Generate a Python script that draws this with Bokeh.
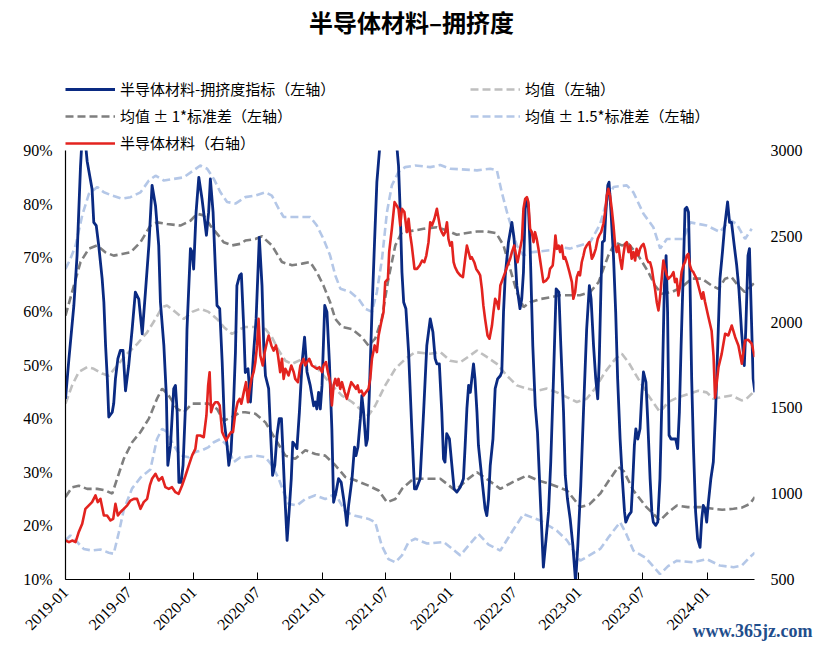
import math
import pandas as pd
from bokeh.plotting import figure
from bokeh.layouts import column
from bokeh.models import (Range1d, LinearAxis, FixedTicker, PrintfTickFormatter,
                          DatetimeTickFormatter, Legend, LegendItem, Label)
from bokeh.embed import file_html
from bokeh.resources import INLINE

# ---------------- data ----------------
X_START = "2019-01-01"   # week 0
X_END = "2024-05-15"
x_tick_labels = ["2019-01", "2019-07", "2020-01", "2020-07", "2021-01", "2021-07",
                 "2022-01", "2022-07", "2023-01", "2023-07", "2024-01"]
left_ticks = [10, 20, 30, 40, 50, 60, 70, 80, 90]
right_ticks = [500, 1000, 1500, 2000, 2500, 3000]

title_text = "半导体材料–拥挤度"
legend_labels = ["半导体材料-拥挤度指标（左轴）", "均值（左轴）", "均值 ± 1*标准差（左轴）",
                 "均值 ± 1.5*标准差（左轴）", "半导体材料（右轴）"]
watermark_text = "www.365jz.com"

# (week since 2019-01-01, value %) crowding index (left axis)
crowding = [
    (0, 43.7), (1.4, 51.2), (3.4, 61.1), (4.7, 70.4), (6.1, 87.0), (7.2, 96.0), (8.8, 88.0), (10.8, 82.8),
    (11.5, 76.6), (12.5, 76.0), (13.5, 72.3), (14.9, 66.1), (15.6, 61.7), (16.3, 53.6), (17.0, 47.4),
    (17.6, 40.3), (19.0, 41.2), (19.6, 42.8), (20.3, 47.4), (21.3, 51.2), (22.3, 52.7), (23.4, 52.7),
    (24.4, 45.2), (25.7, 49.9), (27.1, 56.7), (28.4, 63.6), (29.8, 62.3), (31.2, 55.8), (32.5, 63.6),
    (33.9, 72.3), (35.2, 83.5), (36.6, 79.7), (37.9, 72.3), (38.6, 61.7), (40.0, 53.6), (41.0, 44.3),
    (41.6, 31.3), (42.7, 35.0), (44.0, 45.6), (44.7, 46.2), (45.4, 41.2), (46.1, 28.1), (47.0, 28.1),
    (47.8, 31.3), (48.8, 42.5), (49.4, 56.7), (50.8, 71.7), (51.5, 71.0), (52.1, 67.9), (53.1, 78.5),
    (54.2, 85.0), (55.5, 81.0), (57.3, 74.2), (58.2, 78.5), (58.9, 84.7), (60.0, 78.5), (61.0, 67.3),
    (61.6, 61.1), (62.7, 60.5), (63.7, 50.6), (64.6, 39.3), (65.7, 35.0), (66.4, 31.3), (67.3, 33.8),
    (68.4, 43.7), (69.1, 52.4), (69.7, 64.8), (70.8, 66.7),
    (71.5, 67.0), (72.5, 56.7), (73.1, 48.6), (74.2, 49.3), (75.2, 43.1), (76.5, 52.4), (77.5, 58.6),
    (78.8, 73.8), (79.9, 64.8), (80.6, 53.6), (81.3, 48.0), (82.6, 45.6), (83.3, 38.1), (84.2, 29.4),
    (85.1, 31.3), (86.0, 36.9), (86.9, 40.0), (87.8, 40.0), (88.3, 35.0), (89.1, 26.3), (90.1, 17.3),
    (91.0, 23.2), (91.8, 28.8), (92.4, 35.6), (93.4, 35.0), (94.1, 34.4), (95.1, 41.2), (96.2, 50.5),
    (97.2, 55.2), (98.2, 48.7), (99.5, 46.2), (100.9, 42.4), (101.6, 43.1), (102.2, 41.8), (102.9, 44.9),
    (103.6, 41.8), (104.3, 46.2), (105.4, 61.1), (106.3, 59.9), (107.3, 50.5), (108.3, 38.1), (109.0, 24.4),
    (110.0, 26.3), (111.0, 28.8), (112.1, 28.1), (113.1, 25.0), (113.8, 22.6), (114.4, 20.1), (115.1, 23.8),
    (116.5, 28.8), (117.5, 34.7), (118.1, 33.1), (118.9, 34.7), (119.9, 40.0), (120.5, 44.3), (121.2, 41.2),
    (122.2, 35.0), (122.8, 36.2), (123.5, 44.3), (124.6, 59.9), (125.7, 73.5), (126.6, 84.1), (127.6, 89.7),
    (128.7, 96.5), (130.7, 99.0), (132.7, 98.0), (134.7, 90.9), (135.4, 87.2), (136.1, 78.5), (136.8, 67.3),
    (137.5, 61.7), (138.4, 60.5), (139.5, 52.4), (140.8, 38.1), (141.9, 26.9),
    (142.6, 26.9), (144.2, 28.8), (145.6, 41.2), (146.9, 53.6), (148.3, 58.6), (149.4, 56.1), (150.3, 51.2),
    (151.0, 50.2), (152.0, 50.2), (153.0, 41.2), (153.7, 32.5), (154.3, 31.9), (155.0, 37.2), (156.1, 36.2),
    (157.1, 31.3), (158.0, 26.9), (159.1, 26.3), (160.5, 27.2), (161.8, 28.8), (162.5, 35.0), (163.2, 41.8),
    (163.9, 46.2), (164.6, 44.9), (165.2, 47.4), (165.9, 50.2), (166.5, 47.4), (167.3, 41.2), (167.9, 35.0),
    (169.3, 28.8), (170.6, 23.2), (171.3, 21.9), (172.0, 25.0), (172.7, 31.3), (173.8, 36.2), (174.7, 45.6),
    (175.7, 47.4), (176.8, 48.0), (177.4, 48.7), (178.1, 59.9), (178.8, 66.7), (180.1, 72.9), (181.5, 76.6),
    (182.4, 73.5), (183.5, 64.8), (184.8, 60.5), (185.5, 62.3), (186.2, 67.3), (186.9, 79.1), (187.6, 81.0),
    (188.2, 79.7), (188.9, 72.3), (190.0, 53.6), (191.0, 42.4), (191.9, 37.5), (193.0, 25.7), (194.3, 12.3),
    (195.4, 17.6), (196.4, 22.6), (197.3, 31.9), (198.4, 47.4), (199.5, 64.2), (200.6, 63.6), (201.4, 53.6),
    (202.5, 41.2), (203.2, 29.4), (204.1, 25.0), (205.2, 21.3), (206.3, 16.3), (207.4, 9.5), (208.3, 16.3),
    (209.5, 27.5), (210.6, 41.2), (211.9, 56.7), (213.0, 64.8),
    (213.7, 62.3), (214.7, 53.6), (215.6, 47.4), (216.4, 43.7), (217.0, 50.5), (217.8, 66.1), (218.3, 72.9),
    (219.1, 73.2), (219.7, 78.5), (220.5, 83.5), (221.0, 84.1), (221.8, 78.5), (222.8, 70.4), (223.7, 59.9),
    (224.5, 47.4), (225.5, 36.2), (226.4, 28.8), (227.3, 22.6), (227.8, 20.7), (228.9, 21.9), (230.0, 22.6),
    (230.5, 26.9), (231.3, 35.0), (231.9, 38.1), (232.7, 36.2), (233.6, 38.1), (234.3, 44.3), (235.0, 48.7),
    (236.0, 46.8), (236.7, 40.0), (237.7, 28.8), (238.4, 22.6), (239.0, 20.7), (240.0, 20.1), (240.8, 20.7),
    (241.7, 28.8), (242.7, 47.4), (243.5, 64.8), (244.2, 70.4), (244.8, 59.9), (245.4, 36.9), (246.2, 36.2),
    (247.1, 36.2), (248.1, 36.2), (248.9, 34.4), (249.6, 41.2), (250.3, 53.6), (251.1, 66.1), (251.9, 79.1),
    (252.6, 79.4), (253.3, 78.5), (253.9, 66.1), (254.6, 47.4), (255.3, 35.0), (256.2, 22.6), (257.0, 17.6),
    (258.0, 16.0), (258.7, 21.3), (259.3, 23.8), (260.0, 23.2), (260.7, 20.7), (261.4, 24.4), (262.4, 28.8),
    (263.4, 31.9), (264.3, 41.2), (265.2, 53.6), (266.1, 66.1), (267.1, 71.0), (267.9, 75.4), (268.7, 78.5),
    (269.2, 80.4), (270.0, 76.6), (270.8, 76.6), (271.9, 72.3), (272.9, 68.6), (273.8, 64.2), (274.9, 56.1),
    (276.0, 49.9), (276.6, 56.7), (277.5, 70.4), (278.1, 71.7), (278.9, 58.6), (279.6, 47.4), (280.3, 44.9),
]

# (week, index level) semiconductor materials index (right axis)
materials = [
    (0, 727), (1.4, 718), (2.7, 727), (4.1, 718), (5.4, 777), (6.8, 825), (8.1, 912), (9.5, 932), (10.8, 951),
    (12.2, 990), (13.1, 951), (14.2, 970), (15.6, 873), (16.9, 873), (18.3, 844), (19.4, 853), (20.3, 941),
    (21.3, 873), (22.3, 892), (23.7, 912), (25.1, 932), (26.4, 960), (27.8, 970), (29.1, 970), (30.5, 912),
    (31.8, 951), (33.2, 970), (34.3, 1048), (35.2, 1087), (36.6, 1116), (37.9, 1077), (39.3, 1097),
    (40.6, 1038), (42.0, 1028), (43.3, 1038), (44.7, 1009), (46.0, 999), (47.4, 1048), (48.8, 1106),
    (50.1, 1164), (51.5, 1223), (52.8, 1261), (53.5, 1339), (54.8, 1339), (56.2, 1329), (57.3, 1456),
    (58.0, 1631), (58.6, 1708), (59.2, 1475), (60.0, 1514), (60.9, 1533), (61.9, 1533), (62.7, 1514),
    (63.7, 1359), (64.3, 1339), (65.3, 1310), (66.4, 1339), (67.3, 1359), (68.1, 1359), (69.1, 1475),
    (70.0, 1533), (70.8, 1553), (71.5, 1524), (72.5, 1592), (73.4, 1650), (74.2, 1533), (74.7, 1592),
    (75.6, 1669), (76.5, 1708), (77.2, 1767), (77.9, 1864), (78.5, 2019), (79.2, 1805), (80.2, 1747),
    (81.0, 1825), (81.9, 1883), (82.6, 1922), (83.7, 1864), (84.6, 1834), (85.6, 1864), (86.4, 1805),
    (87.3, 1708), (88.0, 1786), (88.7, 1669), (89.4, 1728), (90.1, 1708), (90.7, 1689), (91.8, 1747),
    (92.8, 1708), (93.4, 1669), (94.5, 1650), (95.5, 1747), (96.2, 1767), (96.8, 1786), (97.5, 1747),
    (98.2, 1767), (99.1, 1786), (100.2, 1747), (101.3, 1737), (102.2, 1728), (103.2, 1737), (104.3, 1708),
    (104.9, 1747), (105.9, 1767), (106.7, 1708), (107.6, 1650), (108.3, 1514), (109.0, 1631), (109.7, 1669),
    (110.4, 1631), (111.0, 1669), (111.7, 1611), (112.4, 1650), (113.5, 1592), (114.4, 1553), (115.4, 1611),
    (116.2, 1650), (117.2, 1631), (118.1, 1611), (118.8, 1631), (119.4, 1592), (120.3, 1601), (121.2, 1572),
    (122.2, 1592), (123.2, 1611), (123.9, 1669), (124.6, 1786), (125.7, 1864), (126.6, 1825), (127.3, 1922),
    (128.4, 2000), (129.3, 2058), (130.0, 2233), (131.1, 2252), (131.6, 2408), (132.7, 2544), (133.8, 2699),
    (134.7, 2679), (135.4, 2660), (136.1, 2563), (136.8, 2660), (137.8, 2641), (138.8, 2524), (139.5, 2602),
    (140.2, 2505), (140.8, 2446), (141.9, 2310), (142.9, 2310), (144.0, 2330), (145.0, 2359), (145.9, 2349),
    (146.7, 2388), (147.6, 2466), (148.3, 2582), (149.0, 2563), (150.0, 2602), (151.0, 2660), (151.7, 2602),
    (152.4, 2544), (153.0, 2524), (153.7, 2505), (154.4, 2524), (155.1, 2582), (155.7, 2485), (156.4, 2446),
    (157.1, 2466), (157.8, 2349), (158.4, 2320), (159.4, 2291), (160.5, 2272), (161.6, 2262), (162.5, 2369),
    (163.2, 2446), (163.9, 2408), (164.6, 2369), (165.2, 2378), (166.2, 2349), (167.0, 2310), (167.9, 2291),
    (168.6, 2272), (169.3, 2194), (169.9, 2097), (170.6, 2019), (171.6, 1922), (172.4, 1903), (173.4, 1980),
    (174.0, 2058), (174.7, 2136), (175.4, 2116), (176.1, 2077), (176.8, 2213), (177.8, 2252), (178.8, 2291),
    (179.7, 2330), (180.8, 2369), (181.5, 2408), (182.4, 2446), (183.2, 2388), (183.8, 2349), (184.6, 2408),
    (185.6, 2485), (186.2, 2660), (186.9, 2718), (187.6, 2728), (188.2, 2699), (188.9, 2544), (189.6, 2524),
    (190.3, 2466), (190.9, 2524), (191.6, 2485), (192.3, 2427), (192.9, 2369), (193.7, 2291), (194.3, 2233),
    (195.4, 2242), (196.4, 2262), (197.0, 2310), (198.1, 2330), (198.8, 2427), (199.2, 2505), (199.8, 2427),
    (200.5, 2446), (201.1, 2408), (201.8, 2446), (202.5, 2369), (203.1, 2378), (203.8, 2349), (204.9, 2291),
    (205.9, 2233), (206.5, 2136), (207.2, 2174), (207.9, 2262), (208.6, 2291), (209.2, 2272), (209.9, 2349),
    (210.6, 2388), (211.2, 2427), (211.9, 2446), (213.0, 2466), (214.0, 2369), (214.7, 2388), (215.6, 2427),
    (216.4, 2485), (217.0, 2505), (217.8, 2524), (218.7, 2573), (219.4, 2641), (220.1, 2738), (220.7, 2777),
    (221.4, 2738), (222.1, 2660), (222.8, 2563), (223.5, 2446), (224.1, 2408), (224.8, 2446), (225.5, 2369),
    (226.2, 2310), (226.8, 2388), (227.5, 2456), (228.2, 2466), (228.9, 2408), (229.6, 2446), (230.2, 2369),
    (230.9, 2408), (231.6, 2359), (232.2, 2427), (232.9, 2388), (233.6, 2427), (234.3, 2446), (235.0, 2456),
    (235.6, 2427), (236.3, 2369), (237.0, 2349), (237.7, 2349), (238.4, 2310), (239.0, 2252), (239.7, 2194),
    (240.4, 2116), (241.1, 2068), (241.8, 2155), (242.4, 2252), (243.1, 2359), (243.8, 2310), (244.5, 2272),
    (245.1, 2252), (245.8, 2262), (246.5, 2272), (247.2, 2291), (247.8, 2233), (248.5, 2252), (249.2, 2155),
    (249.9, 2213), (250.5, 2291), (251.2, 2330), (251.9, 2349), (252.6, 2388), (253.2, 2398), (253.9, 2330),
    (254.6, 2301), (255.3, 2291), (255.9, 2272), (256.6, 2252), (257.3, 2213), (258.0, 2174), (258.7, 2136),
    (259.3, 2174), (260.0, 2120), (261.4, 2030), (262.7, 1950), (263.5, 1800), (264.1, 1560), (265.5, 1737),
    (266.8, 1815), (268.2, 1932), (269.5, 1922), (270.9, 1980), (272.3, 1912), (273.6, 1864), (275.0, 1757),
    (276.3, 1893), (277.6, 1897), (279.0, 1874), (280.3, 1796),
]

# rolling mean and bands (week, %)
mean_line = [
    (0, 42.8), (2.7, 46.2), (5.4, 48.7), (8.8, 49.6), (11.5, 49.3), (14.9, 48.4), (17.6, 48.0), (21.0, 49.9),
    (25.1, 52.1), (29.1, 53.9), (33.2, 56.1), (36.6, 58.6), (39.3, 60.8), (41.3, 61.1), (44.7, 59.9),
    (48.1, 58.6), (51.5, 59.9), (54.8, 60.5), (58.2, 59.9), (61.6, 58.6), (64.3, 57.1), (67.7, 55.8),
    (71.1, 56.7), (73.1, 57.1), (77.2, 57.1), (81.3, 56.7), (83.9, 55.2), (86.7, 52.7), (89.4, 50.8),
    (92.1, 50.2), (96.2, 51.1), (100.2, 50.5), (104.3, 48.4), (108.3, 46.2), (112.4, 44.3), (116.5, 43.1),
    (120.5, 41.5), (123.2, 40.6), (125.9, 42.4), (130.0, 46.2), (134.1, 49.3), (138.1, 51.1), (142.2, 52.4),
    (148.3, 52.1), (152.4, 52.4), (156.4, 50.8), (160.5, 50.5), (164.6, 51.8), (167.3, 52.7), (171.3, 51.5),
    (175.4, 50.2), (179.5, 48.0), (183.5, 46.2), (187.6, 45.6), (191.7, 45.2), (195.7, 45.6), (199.8, 44.9),
    (203.8, 44.0), (207.9, 43.1), (211.9, 43.7), (215.3, 45.6), (219.4, 48.7), (223.5, 51.1), (226.2, 52.1),
    (228.9, 50.5), (232.9, 47.4), (237.0, 44.3), (241.7, 41.2), (245.1, 43.1), (249.2, 44.0), (253.3, 44.6),
    (257.3, 45.2), (260.7, 44.9), (263.4, 43.7), (266.8, 44.0), (270.8, 44.3), (274.9, 43.4), (276.9, 43.7),
    (280.3, 45.2),
]
upper_1sd = [
    (0, 59.2), (3.4, 64.8), (6.1, 69.2), (9.5, 71.7), (12.9, 72.3), (16.3, 71.0), (19.6, 70.4), (23.0, 70.7),
    (26.4, 71.0), (30.5, 72.9), (34.5, 76.0), (37.2, 76.6), (41.3, 76.3), (46.7, 76.0), (50.8, 76.9),
    (53.5, 78.2), (56.2, 77.9), (58.9, 76.0), (61.6, 74.5), (64.3, 72.9), (67.7, 72.3), (71.1, 72.6),
    (73.1, 73.2), (77.2, 73.5), (79.9, 74.0), (83.9, 72.3), (88.0, 69.2), (92.1, 68.6), (96.2, 68.9),
    (99.5, 69.2), (102.2, 67.3), (104.9, 64.8), (107.6, 61.7), (109.7, 58.6), (112.4, 57.1), (116.5, 56.7),
    (120.5, 55.2), (123.2, 53.6), (125.9, 54.9), (128.6, 58.6), (131.3, 66.1), (134.1, 72.3), (136.8, 74.8),
    (142.2, 75.1), (145.6, 75.4), (151.0, 75.7), (155.1, 75.1), (159.1, 74.3), (163.2, 74.6), (167.3, 74.9),
    (171.3, 74.9), (175.1, 74.6), (178.1, 72.3), (180.8, 67.9), (183.5, 63.6), (186.2, 60.8), (188.9, 61.7),
    (193.0, 62.3), (197.0, 62.6), (201.1, 63.0), (205.2, 63.0), (209.2, 63.0), (213.3, 63.6), (216.7, 65.4),
    (220.7, 70.4), (223.5, 72.9), (226.2, 72.3), (228.9, 72.6), (232.9, 70.4), (237.0, 67.3), (239.7, 64.8),
    (242.4, 63.3), (246.5, 63.6), (250.5, 64.5), (254.6, 66.1), (258.7, 66.1), (262.8, 64.8), (265.5, 64.2),
    (268.2, 66.1), (270.8, 66.4), (273.5, 64.8), (276.2, 63.6), (280.3, 65.4),
]
lower_1sd = [
    (0, 25.4), (2.7, 27.2), (5.4, 27.5), (8.8, 26.9), (12.9, 26.9), (16.3, 26.6), (19.0, 26.0), (21.0, 28.8),
    (23.7, 32.5), (27.1, 35.6), (30.5, 37.5), (33.9, 40.0), (37.2, 43.7), (39.3, 45.6), (42.0, 44.3),
    (45.4, 41.8), (48.1, 41.2), (51.5, 42.8), (54.8, 42.8), (58.2, 42.8), (61.6, 41.8), (64.3, 39.6),
    (67.7, 40.3), (71.1, 41.2), (73.1, 41.2), (77.2, 40.9), (81.3, 39.3), (85.3, 36.2), (89.4, 33.1),
    (93.4, 32.5), (97.5, 34.1), (101.6, 33.4), (105.6, 33.1), (109.7, 31.3), (113.8, 29.1), (117.8, 28.5),
    (123.2, 27.5), (127.3, 26.6), (130.7, 24.4), (134.1, 25.0), (137.0, 27.0), (141.5, 28.8), (146.0, 28.8),
    (152.4, 28.8), (158.5, 26.6), (163.0, 28.5), (167.3, 30.0), (172.0, 28.5), (176.8, 26.9), (182.0, 28.2),
    (187.6, 29.4), (192.0, 28.5), (197.1, 27.8), (203.9, 26.6), (209.3, 23.5), (213.0, 24.0), (217.4, 26.0),
    (221.0, 28.5), (224.8, 31.0), (227.0, 30.2), (230.9, 26.6), (236.0, 23.6), (241.7, 21.0), (245.0, 22.5),
    (248.6, 23.8), (253.0, 23.5), (258.0, 23.5), (263.4, 23.2), (267.0, 23.0), (271.6, 23.2), (275.0, 23.4),
    (278.3, 24.1), (280.3, 25.4),
]
upper_15sd = [
    (0, 67.9), (2.0, 69.8), (4.1, 72.3), (6.8, 77.9), (9.5, 81.9), (12.9, 83.2), (15.6, 82.2), (19.0, 81.6),
    (23.0, 81.0), (26.4, 81.3), (30.5, 82.2), (33.9, 84.4), (36.6, 85.3), (40.0, 84.4), (44.0, 84.7),
    (48.1, 85.0), (52.1, 86.3), (54.8, 87.2), (57.6, 86.6), (60.3, 84.7), (63.0, 82.2), (65.7, 80.4),
    (69.1, 80.1), (71.1, 80.7), (73.1, 81.3), (77.2, 81.6), (81.3, 82.2), (83.9, 81.6), (86.7, 79.1),
    (88.7, 77.6), (92.8, 77.6), (96.2, 77.6), (99.5, 77.6), (102.2, 76.0), (104.9, 73.5), (107.6, 70.4),
    (109.7, 66.7), (111.8, 64.2), (115.8, 63.6), (119.2, 62.3), (121.9, 60.5), (124.6, 59.9), (126.6, 63.6),
    (128.7, 69.8), (130.7, 78.5), (132.7, 83.5), (135.4, 86.0), (138.1, 86.9), (142.2, 87.2), (148.3, 86.9),
    (152.4, 87.3), (156.4, 86.6), (160.5, 86.5), (167.3, 86.3), (172.7, 86.6), (175.4, 86.3), (177.4, 82.2),
    (179.5, 78.5), (181.5, 75.4), (183.5, 72.3), (186.2, 70.4), (188.9, 71.0), (193.0, 71.2), (197.0, 71.4),
    (201.1, 72.0), (205.2, 71.7), (209.2, 72.3), (213.3, 72.9), (217.4, 76.3), (220.0, 80.5), (222.8, 83.2),
    (228.2, 83.5), (230.9, 82.2), (235.0, 78.2), (239.0, 75.7), (241.8, 71.7), (244.5, 73.5), (251.2, 73.5),
    (254.0, 76.6), (260.7, 76.0), (266.1, 74.8), (270.1, 77.0), (272.9, 76.3), (276.3, 73.5), (279.0, 75.4),
]
lower_15sd = [
    (0, 17.3), (2.0, 18.2), (4.7, 17.0), (7.4, 15.7), (10.8, 15.4), (14.2, 15.6), (17.6, 15.0), (19.6, 14.8),
    (21.7, 18.8), (23.7, 23.0), (27.1, 27.0), (30.5, 29.0), (34.5, 30.5), (37.2, 36.2), (39.3, 38.1),
    (41.3, 37.5), (44.0, 35.0), (46.7, 33.1), (50.1, 32.8), (52.8, 33.8), (55.5, 34.1), (58.2, 34.7),
    (60.3, 35.6), (63.0, 36.2), (65.7, 35.0), (68.4, 31.9), (71.1, 32.8), (73.1, 32.8), (77.2, 33.1),
    (81.3, 32.8), (83.9, 31.3), (86.7, 28.8), (88.7, 26.3), (90.7, 24.1), (94.1, 23.8), (97.5, 25.0),
    (101.6, 25.7), (105.6, 25.0), (109.7, 26.0), (113.8, 22.6), (117.8, 21.9), (123.2, 21.3), (125.9, 20.7),
    (128.6, 16.3), (131.3, 13.8), (134.1, 13.2), (136.8, 14.5), (139.5, 17.0), (142.2, 17.6), (147.0, 16.7),
    (153.7, 17.0), (160.5, 14.5), (167.9, 18.5), (172.0, 16.5), (176.8, 15.4), (181.0, 18.5), (186.2, 22.2),
    (193.0, 21.0), (199.8, 19.1), (203.9, 17.3), (209.3, 13.5), (213.0, 14.5), (217.4, 15.7), (221.0, 18.0),
    (225.5, 20.7), (228.0, 18.5), (230.9, 15.4), (236.0, 14.0), (241.7, 11.0), (245.0, 12.5), (248.6, 13.5),
    (255.3, 13.2), (260.7, 13.8), (266.1, 12.6), (271.6, 12.3), (275.0, 12.6), (278.3, 14.2), (280.3, 15.0),
]

# ---------------- helpers ----------------
T0 = pd.Timestamp(X_START)


def xs(pairs):
    return [T0 + pd.Timedelta(days=7 * w) for w, _ in pairs]


def ys(pairs):
    return [v for _, v in pairs]


DASH = "8 4"
BW = 2.6
C_LB, C_DG, C_LG = "#B4C7E7", "#7F7F7F", "#BFBFBF"
C_BLUE, C_RED = "#0A2A82", "#E3231F"
STYLE_BLUE = dict(line_color=C_BLUE, line_width=2.8, line_join="round")
STYLE_RED = dict(line_color=C_RED, line_width=2.6, line_join="round")
STYLE_MEAN = dict(line_color=C_LG, line_width=BW, line_dash=DASH)
STYLE_1SD = dict(line_color=C_DG, line_width=BW, line_dash=DASH)
STYLE_15SD = dict(line_color=C_LB, line_width=BW, line_dash=DASH)

# ---------------- header (title + legend) ----------------
hdr = figure(width=818, height=160, x_range=Range1d(0, 1), y_range=Range1d(0, 1),
             output_backend="svg", toolbar_location=None, min_border=0,
             x_axis_location=None, y_axis_location=None)
hdr.outline_line_color = None
hdr.xgrid.visible = False
hdr.ygrid.visible = False
hdr.background_fill_color = "white"
hdr.border_fill_color = "white"

# legend keys: placed outside the header's ranges so only the legend key shows
KEY_X, KEY_Y = [-5, -4], [-5, -4]
k_blue = hdr.line(KEY_X, KEY_Y, **STYLE_BLUE)
k_mean = hdr.line(KEY_X, KEY_Y, **STYLE_MEAN)
k_1 = hdr.line(KEY_X, KEY_Y, **STYLE_1SD)
k_15 = hdr.line(KEY_X, KEY_Y, **STYLE_15SD)
k_red = hdr.line(KEY_X, KEY_Y, **STYLE_RED)

items = [LegendItem(label=legend_labels[0], renderers=[k_blue]),
         LegendItem(label=legend_labels[1], renderers=[k_mean]),
         LegendItem(label=legend_labels[2], renderers=[k_1]),
         LegendItem(label=legend_labels[3], renderers=[k_15]),
         LegendItem(label=legend_labels[4], renderers=[k_red])]
legend = Legend(items=items, orientation="horizontal", ncols=2, location=(0, 7),
                padding=0, margin=0, spacing=6,
                glyph_width=50, glyph_height=16, label_width=344, label_height=16,
                label_standoff=5, border_line_color=None, background_fill_alpha=0,
                label_text_font="Noto Sans CJK SC", label_text_font_size="15px",
                label_text_color="black")
hdr.add_layout(legend)
hdr.add_layout(Label(x=346, y=139, x_units="screen", y_units="screen", text=title_text,
                     text_font="Noto Sans CJK SC", text_font_style="bold", text_font_size="24px",
                     text_align="center", text_baseline="middle", text_color="black"))

# ---------------- main chart ----------------
p = figure(width=818, height=505, x_axis_type="datetime",
           x_range=Range1d(pd.Timestamp(X_START), pd.Timestamp(X_END)),
           y_range=Range1d(left_ticks[0], left_ticks[-1]),
           output_backend="svg", toolbar_location=None,
           min_border_left=65, min_border_right=64, min_border_top=10, min_border_bottom=66,
           margin=(-20, 0, 0, 0))
p.extra_y_ranges = {"right": Range1d(right_ticks[0], right_ticks[-1])}
p.outline_line_color = None
p.xgrid.visible = False
p.ygrid.visible = False
p.background_fill_color = "white"
p.border_fill_alpha = 0

p.line(xs(lower_15sd), ys(lower_15sd), **STYLE_15SD)
p.line(xs(upper_15sd), ys(upper_15sd), **STYLE_15SD)
p.line(xs(lower_1sd), ys(lower_1sd), **STYLE_1SD)
p.line(xs(upper_1sd), ys(upper_1sd), **STYLE_1SD)
p.line(xs(mean_line), ys(mean_line), **STYLE_MEAN)
p.line(xs(crowding), ys(crowding), **STYLE_BLUE)
p.line(xs(materials), ys(materials), y_range_name="right", **STYLE_RED)

TICK_FONT = "Liberation Serif"

# x axis
xa = p.xaxis[0]
xa.ticker = FixedTicker(ticks=[pd.Timestamp(t + "-01").value / 1e6 for t in x_tick_labels])
xa.formatter = DatetimeTickFormatter(years="%Y-%m", months="%Y-%m", days="%Y-%m", hours="%Y-%m")
xa.major_label_orientation = math.pi / 4
xa.major_tick_in = 7
xa.major_tick_out = 0
xa.minor_tick_line_color = None
xa.axis_line_color = "black"
xa.axis_line_width = 1.2
xa.major_tick_line_color = "black"
xa.major_label_standoff = 10
xa.major_label_text_font = TICK_FONT
xa.major_label_text_font_size = "16px"
xa.major_label_text_color = "black"

# left axis
ya = p.yaxis[0]
ya.ticker = FixedTicker(ticks=left_ticks)
ya.formatter = PrintfTickFormatter(format="%d%%")
ya.major_tick_line_color = None
ya.minor_tick_line_color = None
ya.major_tick_out = 0
ya.major_tick_in = 0
ya.axis_line_color = "black"
ya.axis_line_width = 1.2
ya.major_label_standoff = 13
ya.major_label_text_font = TICK_FONT
ya.major_label_text_font_size = "16px"
ya.major_label_text_color = "black"

# right axis
ra = LinearAxis(y_range_name="right", ticker=FixedTicker(ticks=right_ticks))
ra.axis_line_color = None
ra.major_tick_line_color = None
ra.minor_tick_line_color = None
ra.major_tick_out = 0
ra.major_tick_in = 0
ra.major_label_standoff = 16
ra.major_label_text_font = TICK_FONT
ra.major_label_text_font_size = "16px"
ra.major_label_text_color = "black"
p.add_layout(ra, "right")

# ---------------- footer (watermark, overlapping the bottom strip, transparent) ----------------
ftr = figure(width=818, height=30, x_range=Range1d(0, 1), y_range=Range1d(0, 1),
             output_backend="svg", toolbar_location=None, min_border=0,
             x_axis_location=None, y_axis_location=None, margin=(-30, 0, 0, 0))
ftr.outline_line_color = None
ftr.xgrid.visible = False
ftr.ygrid.visible = False
ftr.background_fill_alpha = 0
ftr.border_fill_alpha = 0
wm_x = 812
try:
    ftr.frame_align = False
except Exception:
    wm_x = 689   # frame stays aligned with the chart frame (65 px left border)
ftr.add_layout(Label(x=wm_x, y=15, x_units="screen", y_units="screen", text=watermark_text,
                     text_font="Liberation Serif", text_font_style="bold", text_font_size="18px",
                     text_align="right", text_baseline="middle", text_color="#1F4E8C"))

layout = column(hdr, p, ftr, spacing=0)
open("out.html", "w").write(file_html(layout, INLINE))
